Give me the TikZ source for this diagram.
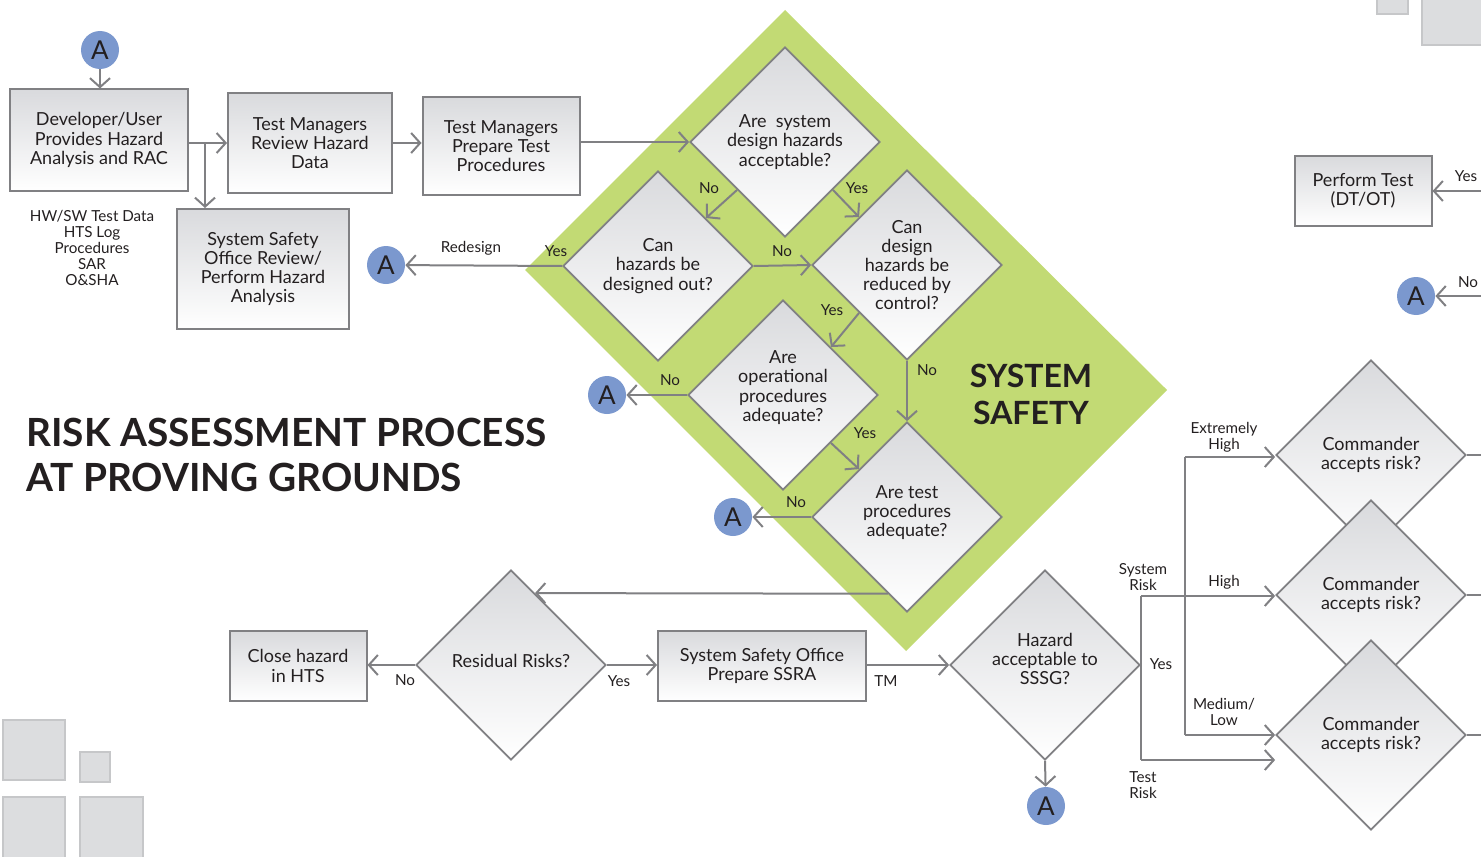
\documentclass[tikz,border=0pt]{standalone}
\usepackage{fontspec}
\setmainfont{Lato}
\usetikzlibrary{arrows.meta}
\usetikzlibrary{shapes.geometric}
\usetikzlibrary{calc}

\definecolor{linegray}{HTML}{808083}
\definecolor{boxtop}{HTML}{D9DADD}
\definecolor{ablue}{HTML}{7B98CE}
\definecolor{ssgreen}{HTML}{C2DA74}
\definecolor{ink}{HTML}{231F20}
\definecolor{decofill}{HTML}{DCDDDF}
\definecolor{decoline}{HTML}{C6C7C9}

\tikzset{
  every node/.style={text=ink, font=\fontsize{9}{9.6}\selectfont},
  box/.style={draw=linegray, line width=1pt, top color=boxtop, bottom color=white,
    align=center, inner sep=0pt},
  decision/.style={diamond, draw=linegray, line width=0.9pt, top color=boxtop,
    bottom color=white, align=center, inner sep=0pt, minimum width=95pt, minimum height=95pt},
  acirc/.style={circle, fill=ablue, inner sep=0pt, minimum size=19pt,
    font=\fontsize{13}{13}\selectfont},
  arr/.style={draw=linegray, line width=1pt, -{Straight Barb[length=4.5pt,width=10pt]}},
  wire/.style={draw=linegray, line width=1pt},
  lbl/.style={font=\fontsize{7.6}{8}\selectfont, align=center, inner sep=0pt},
  deco/.style={fill=decofill, draw=decoline, line width=1.2pt},
}

\begin{document}
\begin{tikzpicture}[x=0.5pt, y=-0.5pt]
    \useasboundingbox (0,0) rectangle (1481,856);

    % corner squares
    \filldraw[deco] (1377,-5) rectangle (1408,14);
    \filldraw[deco] (1422,-5) rectangle (1490,45);
    \filldraw[deco] (3,720) rectangle (65,780);
    \filldraw[deco] (80,752) rectangle (110,782);
    \filldraw[deco] (3,797) rectangle (65,862);
    \filldraw[deco] (80,797) rectangle (143,862);

    % green system safety block
    \fill[ssgreen] (785,10) -- (1167,390) -- (906,651) -- (525,270) -- cycle;
    \node[font=\fontsize{16}{18.5}\selectfont\bfseries, align=center] (sstitle) at (1031,394) {SYSTEM\\SAFETY};

    % title
    \node[font=\fontsize{19.4}{22.5}\selectfont\bfseries, align=left, anchor=west, inner sep=0pt]
      (title) at (26,455) {RISK ASSESSMENT PROCESS\\AT PROVING GROUNDS};

    % boxes
    \node[box, minimum width=89pt, minimum height=50.5pt] (dev) at (99,140) {Developer/User\\Provides Hazard\\Analysis and RAC};
    \node[box, minimum width=82pt, minimum height=50pt] (review) at (310,143) {Test Managers\\Review Hazard\\Data};
    \node[box, minimum width=78.5pt, minimum height=49pt] (prep) at (501,146) {Test Managers\\Prepare Test\\Procedures};
    \node[box, minimum width=86pt, minimum height=60pt] (sso) at (263,269) {System Safety\\Office Review/\\Perform Hazard\\Analysis};
    \node[box, minimum width=68.5pt, minimum height=35pt] (close) at (298,666) {Close hazard\\in HTS};
    \node[box, minimum width=104pt, minimum height=35pt] (ssra) at (762,666) {System Safety Office\\Prepare SSRA};
    \node[box, minimum width=68.5pt, minimum height=35pt] (perform) at (1363,191) {Perform Test\\(DT/OT)};

    \node[lbl, font=\fontsize{7.6}{8}\selectfont] (inputs) at (92,248) {HW/SW Test Data\\HTS Log\\Procedures\\SAR\\O\&SHA};

    % decisions
    \node[decision] (acc) at (785,142) {Are\ \ system\\design hazards\\acceptable?};
    \node[decision] (out) at (658,266) {Can\\hazards be\\designed out?};
    \node[decision] (ctrl) at (907,265) {Can\\design\\hazards be\\reduced by\\control?};
    \node[decision] (oper) at (783,395) {Are\\operational\\procedures\\adequate?\\[-0.6pt]\mbox{}};
    \node[decision] (tproc) at (907,517) {Are test\\procedures\\adequate?\\[-3.6pt]\mbox{}};
    \node[decision] (resid) at (511,665) {Residual Risks?\\[-5pt]\mbox{}};
    \node[decision] (sssg) at (1045,665) {Hazard\\acceptable to\\SSSG?\\[-3.6pt]\mbox{}};
    \node[decision] (cmd1) at (1371,455) {Commander\\accepts risk?};
    \node[decision] (cmd2) at (1371,595) {Commander\\accepts risk?};
    \node[decision] (cmd3) at (1371,735) {Commander\\accepts risk?};

    % connector circles
    \node[acirc] (a0) at (100,50) {A};
    \node[acirc] (aRed) at (386,265) {A};
    \node[acirc] (aOper) at (607,395) {A};
    \node[acirc] (aTest) at (733,517) {A};
    \node[acirc] (aSssg) at (1046,806) {A};
    \node[acirc] (aCmd) at (1416,296) {A};

    % helper points
    \coordinate (split) at (205,143);
    \coordinate (back) at ($(tproc.west)!0.8!(tproc.south)$);
    \coordinate (yesPt) at (1141,665);
    \coordinate (sysPt) at (1141,596);
    \coordinate (testPt) at (1141,760);
    \coordinate (riskPt) at (1185,596);
    \coordinate (ehPt) at (1185,457);
    \coordinate (mlPt) at (1185,735);
    \coordinate (edgeYes) at (1485,191);
    \coordinate (edgeNo) at (1485,296);

    % connectors
    \draw[arr] (a0) -- (a0 |- dev.north);
    \draw[arr] (dev.east |- review) -- (review.west);
    \draw[arr] (split) -- (split |- sso.north);
    \draw[arr] (review.east) -- (review.east -| prep.west);
    \draw[arr] (prep.east |- acc) -- (acc.west);
    \draw[arr] (acc.south west) -- (out.north east);
    \draw[arr] (acc.south east) -- (ctrl.north west);
    \draw[arr] (out.east) -- (ctrl.west);
    \draw[arr] (out.west) -- (aRed);
    \draw[arr] (ctrl.south west) -- (oper.north east);
    \draw[arr] (ctrl.south) -- (tproc.north);
    \draw[arr] (oper.west) -- (aOper);
    \draw[arr] (oper.south east) -- (tproc.north west);
    \draw[arr] (tproc.west) -- (aTest);
    \draw[arr] (back) -- ($(resid.north)!0.25!(resid.east)$ |- back);
    \draw[arr] (resid.west) -- (close.east |- resid);
    \draw[arr] (resid.east) -- (ssra.west |- resid);
    \draw[arr] (ssra.east |- sssg) -- (sssg.west);
    \draw[arr] (sssg.south) -- (aSssg);
    \draw[wire] (sssg.east) -- (yesPt);
    \draw[wire] (sysPt) -- (testPt);
    \draw[arr] (sysPt) -- (sysPt -| cmd2.west);
    \draw[arr] (testPt) -- (testPt -| cmd3.west);
    \draw[wire] (ehPt) -- (mlPt);
    \draw[arr] (ehPt) -- (ehPt -| cmd1.west);
    \draw[arr] (mlPt) -- (mlPt -| cmd3.west);
    \draw[wire] (cmd1.east) -- ++(30,0);
    \draw[wire] (cmd2.east) -- ++(30,0);
    \draw[wire] (cmd3.east) -- ++(30,0);
    \draw[arr] (edgeYes) -- (perform.east);
    \draw[arr] (edgeNo) -- (aCmd);

    % connector labels
    \foreach \x/\y/\t [count=\i] in {709/188/No, 857/188/Yes, 782/251/No, 556/251/Yes,
        471/248/Redesign, 832/310/Yes, 927/370/No, 670/380/No, 865/433/Yes, 796/502/No,
        405/680/No, 619/681/Yes, 886/681/TM, 1161/664/Yes, 1143/577/{System\\Risk},
        1224/582/High, 1224/437/{Extremely\\High}, 1224/712/{Medium/\\Low},
        1143/785/{Test\\Risk}, 1466/176/Yes, 1468/282/No}
      \node[lbl] (lab\i) at (\x,\y) {\t};
\end{tikzpicture}
\end{document}
